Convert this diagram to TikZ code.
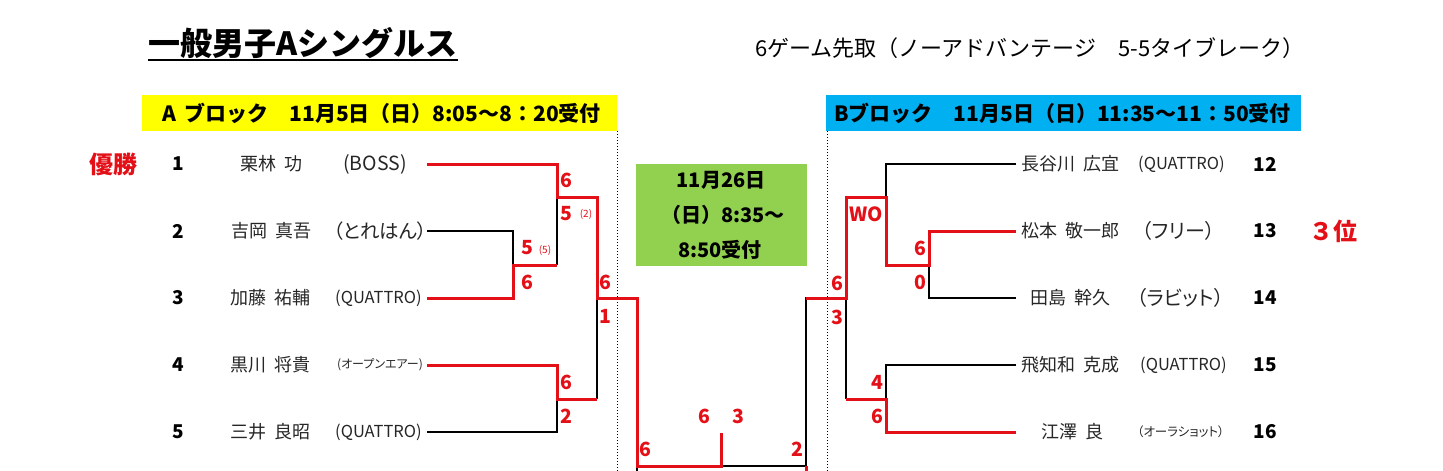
\documentclass[tikz,border=0pt]{standalone}
\usepackage{fontspec}
\setmainfont{Noto Sans CJK JP}
\newfontfamily\jpp[RawFeature=+palt]{Noto Sans CJK JP}
\newcommand\fs[1]{\fontsize{#1pt}{#1pt}\selectfont}
\newcommand\nsp{\hspace{0.45em}}
\definecolor{wred}{RGB}{228,16,24}
\definecolor{ayellow}{RGB}{255,255,0}
\definecolor{bblue}{RGB}{0,176,240}
\definecolor{ggreen}{RGB}{146,208,80}
\begin{document}
\begin{tikzpicture}[x=1pt,y=-1pt,
  lose/.style={line width=2pt, black, line join=miter},
  win/.style={line width=3pt, wred, line join=miter},
  dotline/.style={line width=1pt, black, dash pattern=on 1.2pt off 1.8pt},
  nm/.style={anchor=west, inner sep=0pt, font=\fs{18}, text=black!85},
  club/.style={anchor=west, inner sep=0pt, font=\jpp\fs{16.5}, text=black!85},
  tiny/.style={anchor=west, inner sep=0pt, font=\jpp\fs{12}, text=black!85},
  num/.style={inner sep=0pt, font=\bfseries\fs{19}},
  sc/.style={inner sep=0pt, font=\bfseries\fs{19.5}, text=wred},
  scs/.style={inner sep=0pt, font=\fs{10}, text=wred},
  rank/.style={inner sep=0pt, font=\bfseries\fs{24}, text=wred},
  hdr/.style={anchor=west, inner sep=0pt, font=\bfseries\fs{21}},
  bar/.style={anchor=north west, inner sep=0pt, minimum width=475pt, minimum height=36pt},
  gtext/.style={inner sep=0pt, font=\bfseries\fs{20}}
]
\useasboundingbox (0,0) rectangle (1443,471);

% title and rule
\node[anchor=base west, inner sep=0pt, font=\bfseries\fs{32}] (title) at (148,55) {一般男子Aシングルス};
\draw[line width=2pt] ([yshift=-5pt]title.base west) -- ([yshift=-5pt]title.base east);
\node[anchor=west, inner sep=0pt, font=\fs{22}] (rule) at (755,48) {6ゲーム先取（ノーアドバンテージ　5-5タイブレーク）};

% block headers
\node[bar, fill=ayellow] (barA) at (142,95) {};
\node[hdr] (hdrA) at (162,113) {A\hspace{0.4em}ブロック　11月5日（日）8:05～8：20受付};
\node[bar, fill=bblue] (barB) at (826,95) {};
\node[hdr] (hdrB) at (834,113) {Bブロック　11月5日（日）11:35～11：50受付};

% dotted separators
\coordinate (dA1) at (617,131); \coordinate (dA2) at (617,471);
\coordinate (dB1) at (827,131); \coordinate (dB2) at (827,471);
\draw[dotline] (dA1) -- (dA2);
\draw[dotline] (dB1) -- (dB2);

% final info box
\node[anchor=north west, inner sep=0pt, fill=ggreen, minimum width=171pt, minimum height=102pt] (final) at (636,164) {};
\node[gtext] (g1) at (721,180) {11月26日};
\node[gtext] (g2) at (723,215) {（日）8:35～};
\node[gtext] (g3) at (720,250) {8:50受付};

% left players
\node[rank] (champ) at (113,164) {優勝};
\node[num] (n1) at (178,164) {1};
\node[num] (n2) at (178,231) {2};
\node[num] (n3) at (178,298) {3};
\node[num] (n4) at (178,365) {4};
\node[num] (n5) at (178,432) {5};
\node[nm] (nm1) at (240,164) {栗林\nsp{}功};
\node[nm] (nm2) at (231,231) {吉岡\nsp{}真吾};
\node[nm] (nm3) at (230,298) {加藤\nsp{}祐輔};
\node[nm] (nm4) at (230,365) {黒川\nsp{}将貴};
\node[nm] (nm5) at (230,432) {三井\nsp{}良昭};
\node[club, font=\jpp\fs{19.5}] (cl1) at (343,164) {(BOSS)};
\node[club, font=\jpp\fs{19.5}] (cl2) at (333,231) {（とれはん）};
\node[club] (cl3) at (335,298) {(QUATTRO)};
\node[tiny] (cl4) at (337,365) {(オープンエアー)};
\node[club] (cl5) at (335,432) {(QUATTRO)};

% right players
\node[nm] (nm12) at (1021,164) {長谷川\nsp{}広宜};
\node[nm] (nm13) at (1021,231) {松本\nsp{}敬一郎};
\node[nm] (nm14) at (1030,298) {田島\nsp{}幹久};
\node[nm] (nm15) at (1021,365) {飛知和\nsp{}克成};
\node[nm] (nm16) at (1041,432) {江澤\nsp{}良};
\node[club] (cl12) at (1138,164) {(QUATTRO)};
\node[club, font=\jpp\fs{20}] (cl13) at (1142,231) {（フリー）};
\node[club, font=\jpp\fs{20}] (cl14) at (1137,298) {（ラビット）};
\node[club] (cl15) at (1140,365) {(QUATTRO)};
\node[tiny, font=\jpp\fs{12.5}] (cl16) at (1137,432) {（オーラショット）};
\node[num] (n12) at (1265,164) {12};
\node[num] (n13) at (1265,231) {13};
\node[num] (n14) at (1265,298) {14};
\node[num] (n15) at (1265,365) {15};
\node[num] (n16) at (1265,432) {16};
\node[rank] (third) at (1333,231) {３位};

% bracket coordinates
\coordinate (L1) at (427,164); \coordinate (L2) at (427,231); \coordinate (L3) at (427,298);
\coordinate (L4) at (427,365); \coordinate (L5) at (427,432);
\coordinate (a23) at (513,265); \coordinate (a123) at (557,197); \coordinate (a45) at (557,399);
\coordinate (asf) at (597,298);
\coordinate (fin) at (721,466); \coordinate (fint) at (721,433);
\coordinate (R12) at (1016,164); \coordinate (R13) at (1016,231); \coordinate (R14) at (1016,298);
\coordinate (R15) at (1016,365); \coordinate (R16) at (1016,432);
\coordinate (b34) at (929,265); \coordinate (b234) at (886,197); \coordinate (b56) at (886,399);
\coordinate (bsf) at (846,298);
\coordinate (lb) at (637,471); \coordinate (rb) at (806,471);

% losing lines
\draw[lose] (L2) -| (a23);
\draw[lose] (a123) -- (a123 |- a23);
\draw[lose] (L5) -| (a45);
\draw[lose] (asf) -- (asf |- a45);
\draw[lose] (fin) -| (bsf -| rb) -- (bsf);
\draw[lose] (lb |- fin) -- (lb);
\draw[lose] (R12) -| (b234);
\draw[lose] (R14) -| (b34);
\draw[lose] (R15) -| (b56);
\draw[lose] (bsf) -- (bsf |- b56);

% winning lines
\draw[win] (L1) -| (a123) -| (asf) -- (asf -| lb) |- (fin) -- (fint);
\draw[win] (L3) -| (a23) -- (a23 -| a123);
\draw[win] (L4) -| (a45) -- (a45 -| asf);
\draw[win] (R13) -| (b34) -| (b234) -| (bsf) -- (bsf -| rb);
\draw[win] (R16) -| (b56) -- (b56 -| bsf);
\draw[win] (rb |- fin) -- (rb);

% scores
\node[sc] (s1) at (566,180) {6};
\node[sc] (s2) at (566,214) {5};
\node[scs] (s2t) at (586,214) {(2)};
\node[sc] (s3) at (527,248) {5};
\node[scs] (s3t) at (545,250) {(5)};
\node[sc] (s4) at (527,282) {6};
\node[sc] (s5) at (605,282) {6};
\node[sc] (s6) at (605,316) {1};
\node[sc] (s7) at (566,382) {6};
\node[sc] (s8) at (566,416) {2};
\node[sc] (f1) at (645,449) {6};
\node[sc] (f2) at (704,416) {6};
\node[sc] (f3) at (738,416) {3};
\node[sc] (f4) at (797,449) {2};
\node[sc] (t1) at (837,283) {6};
\node[sc] (t2) at (837,317) {3};
\node[sc] (t3) at (866,214) {WO};
\node[sc] (t4) at (920,248) {6};
\node[sc] (t5) at (920,282) {0};
\node[sc] (t6) at (877,382) {4};
\node[sc] (t7) at (877,416) {6};
\end{tikzpicture}
\end{document}
